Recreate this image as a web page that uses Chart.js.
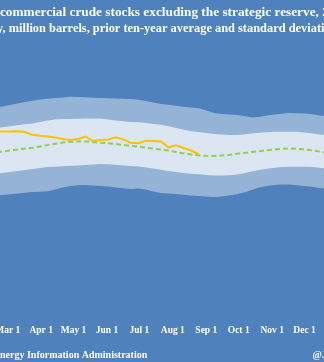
<!DOCTYPE html>
<html>
<head>
<meta charset="utf-8">
<script src="https://cdn.jsdelivr.net/npm/chart.js@4"></script>
<style>
  html, body { margin: 0; padding: 0; background: #4F81BD; }
  #frame { position: relative; width: 324px; height: 362px; overflow: hidden; background: #4F81BD; }
  #stocks { position: absolute; left: -86px; top: 0; }
</style>
</head>
<body>
<div id="frame"><canvas id="stocks" width="494" height="362"></canvas></div>
<script>
// Weekly observation dates as day of year (0 = Jan 1)
const weekDays = [5, 12, 19, 26, 33, 40, 47, 54, 61, 68, 75, 82, 89, 96, 103, 110, 117, 124, 131, 138,
    145, 152, 159, 166, 173, 180, 187, 194, 201, 208, 215, 222, 229, 236, 243, 250, 257, 264, 271, 278,
    285, 292, 299, 306, 313, 320, 327, 334, 341, 348, 355, 362];

// Current year, million barrels (ends late August)
const current = [443.2, 442.0, 440.8, 442.0, 440.2, 439.6, 440.2, 440.1, 440.2, 440.6, 439.6, 436.2,
    435.0, 434.2, 433.0, 431.2, 430.0, 431.2, 434.2, 428.8, 430.0, 430.6, 433.2, 430.8, 426.8, 426.0,
    429.2, 428.8, 428.2, 421.2, 423.6, 420.4, 417.4, 412.8];

// Prior ten-year average
const tenYearAvg = [408.4, 409.4, 410.4, 411.4, 412.5, 413.6, 414.8, 416.2, 417.4, 418.6, 419.7, 420.6,
    422.2, 424.0, 425.4, 427.0, 427.8, 428.2, 428.1, 427.6, 426.8, 426.0, 425.2, 424.0, 423.0, 422.1,
    420.9, 419.6, 418.5, 417.3, 415.6, 413.8, 412.6, 411.6, 411.0, 410.8, 411.3, 412.0, 413.4, 414.4,
    415.6, 416.6, 417.8, 418.6, 419.4, 420.0, 419.4, 418.6, 417.6, 416.2, 414.6, 413.2];

// One standard deviation band
const oneSdHigh = [439.6, 440.2, 440.8, 441.4, 442.0, 442.8, 443.8, 445.2, 446.6, 447.8, 448.8, 449.8,
    451.6, 453.4, 454.6, 455.2, 455.2, 455.4, 455.7, 455.8, 455.8, 454.6, 453.4, 452.6, 451.6, 451.4,
    450.4, 449.2, 448.2, 446.4, 444.4, 442.4, 440.6, 439.6, 438.4, 437.2, 436.6, 436.0, 436.0, 436.6,
    437.8, 438.8, 439.4, 439.8, 440.0, 440.0, 440.0, 439.0, 437.8, 436.6, 435.6, 434.8];
const oneSdLow = [384.4, 385.2, 386.1, 386.8, 387.6, 388.5, 389.2, 390.4, 391.6, 392.8, 394.0, 395.2,
    396.4, 397.6, 398.0, 398.6, 399.0, 399.5, 400.0, 400.6, 401.2, 400.8, 400.2, 399.5, 398.8, 398.2,
    397.0, 395.8, 394.2, 392.8, 391.6, 390.4, 389.4, 388.8, 388.0, 387.3, 387.4, 387.8, 388.6, 390.2,
    392.2, 394.0, 395.4, 396.6, 397.6, 398.0, 398.0, 398.0, 397.6, 396.6, 395.4, 394.6];

// Two standard deviation band
const twoSdHigh = [464.8, 465.4, 466.0, 466.6, 467.2, 467.8, 469.0, 470.1, 472.0, 473.8, 475.6, 477.2,
    478.5, 479.4, 480.4, 481.0, 482.0, 481.6, 481.2, 480.8, 480.4, 480.0, 479.8, 479.4, 479.2, 478.2,
    476.8, 475.0, 473.2, 472.2, 471.0, 470.0, 469.0, 468.2, 465.4, 462.4, 461.2, 460.6, 460.0, 458.8,
    457.0, 457.6, 459.4, 460.6, 461.4, 462.4, 462.2, 461.8, 461.0, 459.4, 458.4, 457.6];
const twoSdLow = [358.0, 358.6, 359.2, 360.0, 361.0, 361.8, 362.8, 364.0, 364.8, 365.8, 366.6, 367.6,
    367.8, 368.6, 370.6, 373.0, 374.8, 375.8, 376.0, 375.4, 374.8, 374.1, 373.0, 372.0, 371.2, 371.8,
    370.6, 368.2, 366.4, 365.9, 365.2, 364.2, 363.4, 362.8, 362.2, 361.6, 362.2, 363.4, 364.8, 367.0,
    370.0, 373.0, 374.8, 376.0, 376.6, 376.6, 375.6, 374.8, 373.8, 372.4, 371.2, 370.0];

// Axis ticks
const monthStarts = [0, 31, 59, 90, 120, 151, 181, 212, 243, 273, 304, 334];
const monthLabels = ['Jan 1', 'Feb 1', 'Mar 1', 'Apr 1', 'May 1', 'Jun 1', 'Jul 1', 'Aug 1', 'Sep 1', 'Oct 1', 'Nov 1', 'Dec 1'];

const titleLines = [
    'U.S. commercial crude stocks excluding the strategic reserve, 2018',
    'Weekly, million barrels, prior ten-year average and standard deviation'
];
const sourceText = 'Source: U.S. Energy Information Administration';
const handleText = '@JKempEnergy';

const toPoints = (values) => values.map((v, i) => ({ x: weekDays[i], y: v }));

const serif = '"Liberation Serif", "Times New Roman", serif';

// Title and source line drawn straight on the canvas
const textPlugin = {
    id: 'texts',
    afterDraw(chart) {
        const ctx = chart.ctx;
        ctx.save();
        ctx.fillStyle = '#ffffff';
        ctx.textAlign = 'left';
        ctx.textBaseline = 'alphabetic';
        ctx.font = 'bold 13.3px ' + serif;
        ctx.fillText(titleLines[0], 59, 15.5);
        ctx.font = 'bold 12.4px ' + serif;
        ctx.fillText(titleLines[1], 50, 31.5);
        ctx.font = 'bold 10px ' + serif;
        ctx.fillText(sourceText, 24, 358);
        ctx.textAlign = 'right';
        ctx.fillText(handleText, 470, 358);
        ctx.restore();
    }
};

const band = (values, fill, color) => ({
    data: toPoints(values),
    borderWidth: 0,
    borderColor: 'transparent',
    backgroundColor: color,
    pointRadius: 0,
    fill: fill,
    tension: 0
});

new Chart(document.getElementById('stocks'), {
    type: 'line',
    data: {
        datasets: [
            {
                label: 'Current',
                data: toPoints(current),
                borderColor: '#FFC000',
                borderWidth: 2,
                pointRadius: 0,
                fill: false,
                tension: 0
            },
            {
                label: 'Ten-year average',
                data: toPoints(tenYearAvg),
                borderColor: '#92D050',
                borderWidth: 2,
                borderDash: [5, 3],
                pointRadius: 0,
                fill: false,
                tension: 0
            },
            band(oneSdHigh, '+1', '#DCE6F2'),
            band(oneSdLow, false, 'transparent'),
            band(twoSdHigh, '+1', '#95B3D7'),
            band(twoSdLow, false, 'transparent')
        ]
    },
    options: {
        responsive: false,
        animation: false,
        layout: {
            padding: { left: 30, right: 70, top: 40, bottom: 20 }
        },
        plugins: {
            legend: { display: false },
            tooltip: { enabled: false }
        },
        scales: {
            x: {
                type: 'linear',
                min: 0,
                max: 365,
                grid: { display: false, drawTicks: false },
                border: { display: false },
                afterBuildTicks: (axis) => {
                    axis.ticks = monthStarts.map(v => ({ value: v }));
                },
                ticks: {
                    autoSkip: false,
                    maxRotation: 0,
                    padding: 6,
                    color: '#ffffff',
                    font: { family: serif, size: 9.5, weight: 'bold' },
                    callback: (value, index) => monthLabels[index]
                }
            },
            y: {
                display: false,
                min: 215.7,
                max: 550
            }
        }
    },
    plugins: [textPlugin]
});
</script>
</body>
</html>
